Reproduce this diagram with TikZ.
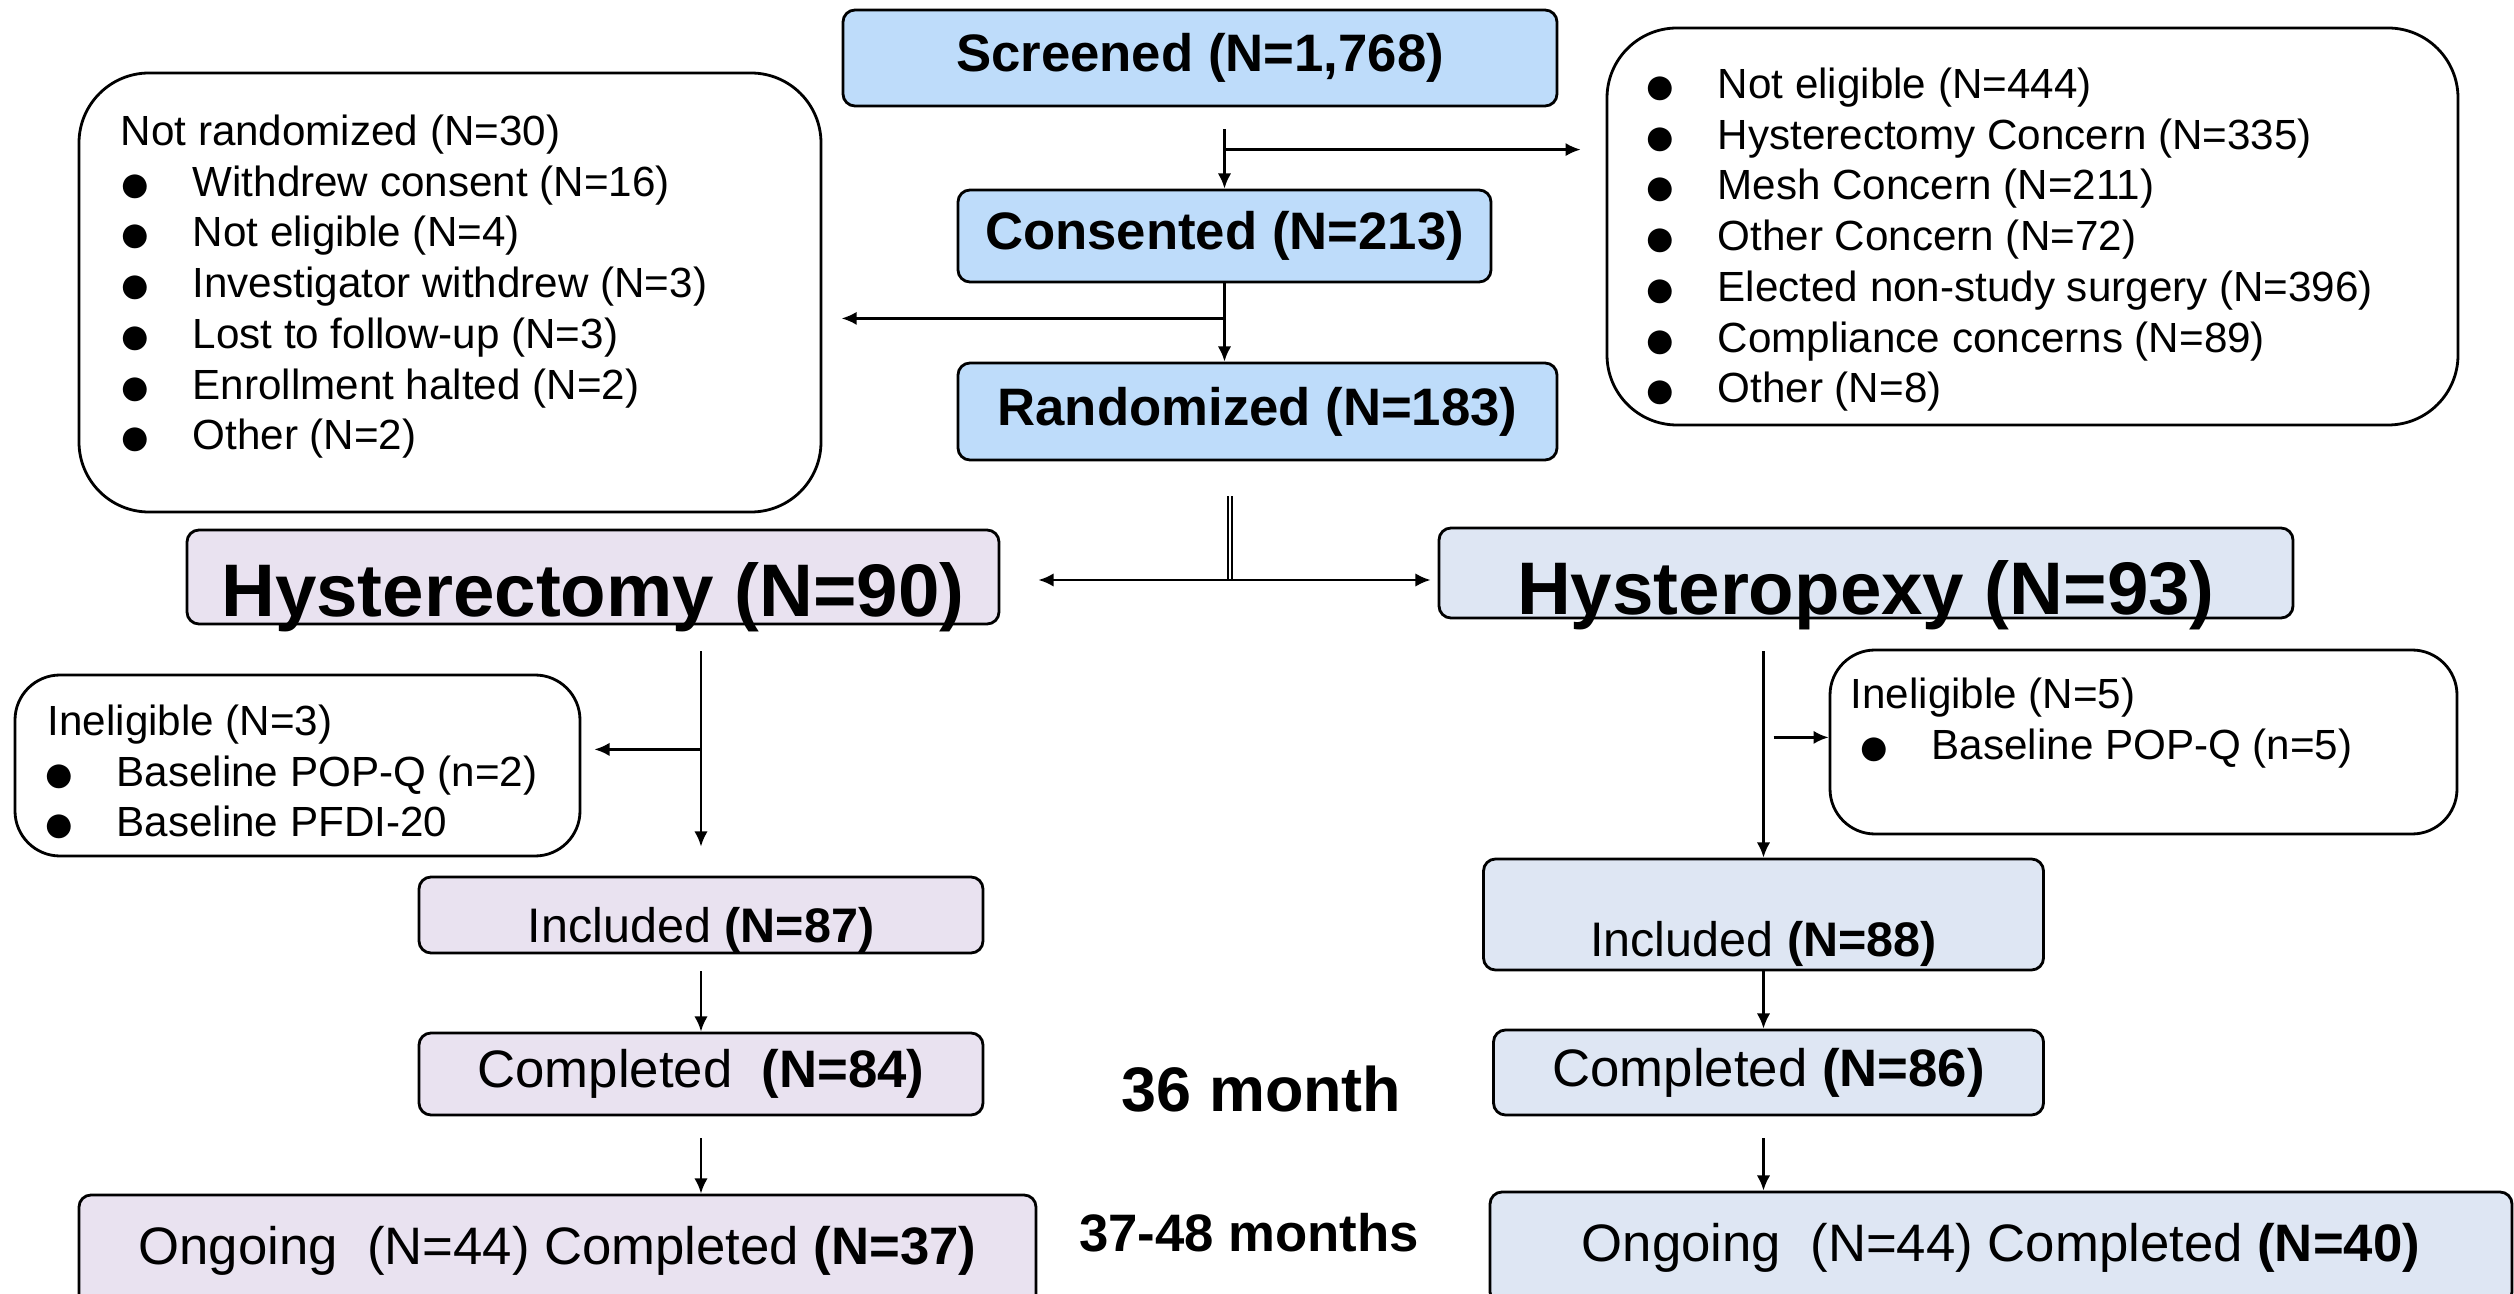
\documentclass[tikz,border=0pt]{standalone}
\usepackage{fontspec}
\setmainfont{Liberation Sans}
\usepackage{xcolor}
\usepackage{tikz}
\usetikzlibrary{arrows.meta,positioning}
\definecolor{topblue}{RGB}{190,220,250}
\definecolor{hystlav}{RGB}{233,226,240}
\definecolor{pexyblue}{RGB}{222,230,243}
\newcommand{\bul}{\makebox[0.74cm][l]{\raisebox{-1.7pt}[0pt][0pt]{\fontsize{15.8}{16}\selectfont ●}}}

\begin{document}
\begin{tikzpicture}[
    box/.style={rectangle, draw, rounded corners=0.12cm, line width=0.8pt, inner sep=0pt},
    topbox/.style={box, fill=topblue, font=\bfseries\fontsize{15}{18}\selectfont},
    armbox/.style={box, font=\bfseries\fontsize{21.2}{24}\selectfont},
    inclbox/.style={box, font=\fontsize{13.8}{16}\selectfont},
    stepbox/.style={box, font=\fontsize{15}{18}\selectfont},
    listbox/.style={rectangle, draw, line width=0.8pt, rounded corners=0.7cm, inner sep=0pt},
    listtext/.style={anchor=north west, inner sep=0pt, align=left, font=\fontsize{12}{14.45}\selectfont},
    arrow/.style={->, >={Latex[length=4.3pt,width=3.8pt]}, line width=0.7pt}
]
\useasboundingbox (0,0) rectangle (25.14,-12.94);

\node[topbox, minimum width=7.14cm, minimum height=0.96cm] (screened) at (12.00,-0.58) {Screened (N=1,768)};
\node[topbox, minimum width=5.33cm, minimum height=0.92cm] (consented) at (12.245,-2.36) {Consented (N=213)};
\node[topbox, minimum width=5.99cm, minimum height=0.97cm] (randomized) at (12.575,-4.115) {Randomized (N=183)};

\node[listbox, minimum width=7.42cm, minimum height=4.39cm] (notrand) at (4.50,-2.925) {};
\node[listtext] (notrandtext) at (1.18,-1.14) {\hspace*{0.02cm}Not randomized (N=30)\\
  \bul Withdrew consent (N=16)\\
  \bul Not eligible (N=4)\\
  \bul Investigator withdrew (N=3)\\
  \bul Lost to follow-up (N=3)\\
  \bul Enrollment halted (N=2)\\
  \bul Other (N=2)};

\node[listbox, minimum width=8.51cm, minimum height=3.97cm] (excluded) at (20.325,-2.265) {};
\node[listtext] (excludedtext) at (16.43,-0.67) {\bul Not eligible (N=444)\\
  \bul Hysterectomy Concern (N=335)\\
  \bul Mesh Concern (N=211)\\
  \bul Other Concern (N=72)\\
  \bul Elected non-study surgery (N=396)\\
  \bul Compliance concerns (N=89)\\
  \bul Other (N=8)};

\node[armbox, fill=hystlav, minimum width=8.12cm, minimum height=0.94cm, text height=0.86cm, text depth=0.06cm] (hyst) at (5.93,-5.77) {Hysterectomy (N=90)};
\node[armbox, fill=pexyblue, minimum width=8.54cm, minimum height=0.90cm, text height=0.87cm, text depth=0.03cm] (pexy) at (18.66,-5.73) {Hysteropexy (N=93)};

\node[listbox, rounded corners=0.45cm, minimum width=5.65cm, minimum height=1.81cm] (inelig1) at (2.975,-7.655) {};
\node[listtext] (inelig1text) at (0.42,-7.04) {\hspace*{0.05cm}Ineligible (N=3)\\
  \bul Baseline POP-Q (n=2)\\
  \bul Baseline PFDI-20};
\node[listbox, rounded corners=0.45cm, minimum width=6.27cm, minimum height=1.84cm] (inelig2) at (21.435,-7.42) {};
\node[listtext] (inelig2text) at (18.50,-6.77) {Ineligible (N=5)\\
  \hspace*{0.07cm}\bul Baseline POP-Q (n=5)};

\node[inclbox, fill=hystlav, minimum width=5.64cm, minimum height=0.76cm, text height=0.6cm, text depth=0.06cm] (incl1) at (7.01,-9.15) {Included \textbf{(N=87)}};
\node[inclbox, fill=pexyblue, minimum width=5.60cm, minimum height=1.11cm, text height=0.89cm, text depth=0.06cm] (incl2) at (17.635,-9.145) {Included \textbf{(N=88)}};

\node[stepbox, fill=hystlav, minimum width=5.64cm, minimum height=0.82cm] (comp1) at (7.01,-10.74) {Completed\ \ \textbf{(N=84)}};
\node[stepbox, fill=pexyblue, minimum width=5.50cm, minimum height=0.85cm] (comp2) at (17.685,-10.725) {Completed \textbf{(N=86)}};

\node[stepbox, fill=hystlav, minimum width=9.57cm, minimum height=1.12cm] (ongo1) at (5.575,-12.51) {Ongoing\ \ (N=44) Completed \textbf{(N=37)}};
\node[stepbox, fill=pexyblue, minimum width=10.22cm, minimum height=1.12cm] (ongo2) at (20.01,-12.48) {Ongoing\ \ (N=44) Completed \textbf{(N=40)}};

\node[font=\bfseries\fontsize{17.9}{20}\selectfont, anchor=base] (month36) at (12.615,-11.11) {36 month};
\node[font=\bfseries\fontsize{15}{18}\selectfont, anchor=base] (month48) at (12.49,-12.51) {37-48 months};

\coordinate (b1) at ([yshift=0.39cm]consented.north);
\coordinate (b2) at ([yshift=-0.35cm]consented.south);
\coordinate (split) at (12.30,-5.80);
\path (hyst.south -| incl1.north) ++(0,-1.24) coordinate (b3);
\path (pexy.south -| incl2.north) ++(0.10,-1.18) coordinate (b4);

\draw[arrow, shorten <=0.22cm] (screened.south -| consented.north) -- (consented.north);
\draw[arrow, shorten >=0.25cm] (b1) -- (b1 -| excluded.west);
\draw[arrow] (consented.south) -- (consented.south |- randomized.north);
\draw[arrow] (b2) -- (b2 -| screened.west);
\draw[line width=0.5pt, double, double distance=0.6pt, shorten <=0.35cm] (randomized.south -| split) -- (split);
\draw[arrow, shorten >=0.38cm] (split) -- (split -| hyst.east);
\draw[arrow, shorten >=0.07cm] (split) -- (split -| pexy.west);
\draw[arrow, shorten <=0.26cm, shorten >=0.29cm] (hyst.south -| incl1.north) -- (incl1.north);
\draw[arrow, shorten >=0.13cm] (b3) -- (b3 -| inelig1.east);
\draw[arrow, shorten <=0.32cm] (pexy.south -| incl2.north) -- (incl2.north);
\draw[arrow] (b4) -- (b4 -| inelig2.west);
\draw[arrow, shorten <=0.17cm] (incl1.south) -- (comp1.north);
\draw[arrow, shorten <=0.22cm] (comp1.south) -- (comp1.south |- ongo1.north);
\draw[arrow] (incl2.south) -- (incl2.south |- comp2.north);
\draw[arrow, shorten <=0.22cm] (incl2.south |- comp2.south) -- (incl2.south |- ongo2.north);
\end{tikzpicture}
\end{document}
